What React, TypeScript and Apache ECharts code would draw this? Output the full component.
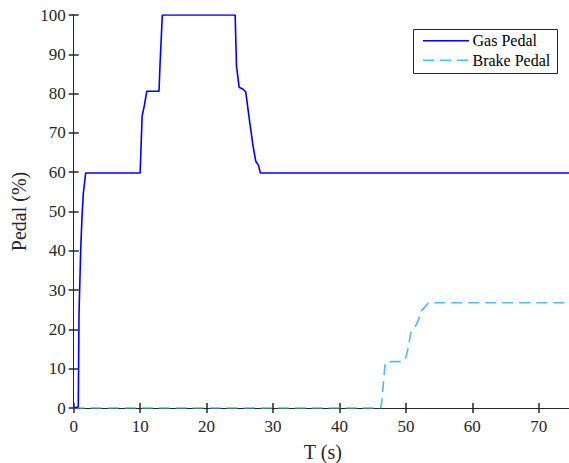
import React, { useEffect, useRef } from "react";
import * as echarts from "echarts";

const gasT = [0, 0.69, 0.8, 1.05, 1.25, 1.45, 1.8, 10.0, 10.3, 10.6, 11.0, 12.84, 12.99, 13.34, 24.3, 24.5, 24.9, 25.5, 25.9, 26.5, 27.0, 27.4, 27.8, 28.1, 75];
const gasV = [0, 0.3, 24, 40, 48.7, 54.6, 59.8, 59.8, 74.3, 76.7, 80.6, 80.6, 87.3, 100, 100, 87, 81.6, 81.1, 80.4, 72.6, 66.6, 62.8, 61.8, 59.8, 59.8];
const brakeT = [0, 46.2, 46.35, 46.85, 47.1, 49.6, 50.0, 50.4, 50.7, 51.4, 51.9, 52.2, 52.9, 53.4, 75];
const brakeV = [0, 0, 1.2, 10.9, 11.8, 11.8, 12.9, 15.6, 19.0, 20.7, 22.4, 24.5, 25.8, 26.8, 26.8];
const seriesNames = ["Gas Pedal", "Brake Pedal"];
const xTitle = "T (s)";
const yTitle = "Pedal (%)";

const FONT = "Liberation Serif";
const AX = "#262626";
const GAS = "#0000ff";
const BRAKE = "#4dbeee";
const DASH = [11, 6];

export default function App() {
  const ref = useRef<HTMLDivElement>(null);
  useEffect(() => {
    if (!ref.current) return;
    const chart = echarts.init(ref.current, undefined, { renderer: "svg" });
    const gas = gasT.map((t, i) => [t, gasV[i]]);
    const brake = brakeT.map((t, i) => [t, brakeV[i]]);
    const axisCommon = {
      axisLine: { show: true, lineStyle: { color: AX, width: 1 } },
      axisTick: { show: true, inside: true, length: 5, lineStyle: { color: AX, width: 1.5 } },
      splitLine: { show: false },
    };
    const lx = 413, ly = 29, lw = 144, lh = 44;
    const rowY = [40.7, 60.2];
    const colors = [GAS, BRAKE];
    const legendEls: any[] = [
      {
        type: "rect",
        shape: { x: lx + 0.5, y: ly + 0.5, width: lw, height: lh },
        style: { fill: "#ffffff", stroke: AX, lineWidth: 1 },
        z: 10,
      },
    ];
    seriesNames.forEach((n, i) => {
      legendEls.push({
        type: "line",
        shape: { x1: 423, y1: rowY[i], x2: 469, y2: rowY[i] },
        style: { stroke: colors[i], lineWidth: 1.6, lineDash: i === 1 ? DASH : null },
        z: 11,
      });
      legendEls.push({
        type: "text",
        x: 472.5,
        y: rowY[i],
        style: {
          text: n,
          fontFamily: FONT,
          fontSize: 16,
          fill: "#000",
          verticalAlign: "middle",
        },
        z: 11,
      });
    });
    chart.setOption({
      animation: false,
      backgroundColor: "#ffffff",
      textStyle: { fontFamily: FONT },
      grid: {
        left: 73.7,
        right: -3,
        top: 15,
        bottom: 55,
        containLabel: false,
        outerBoundsMode: "none",
      },
      xAxis: [
        {
          type: "value",
          min: 0,
          max: 75,
          interval: 10,
          ...axisCommon,
          axisLabel: { fontFamily: FONT, fontSize: 17, color: AX, margin: 10, showMaxLabel: false },
          name: xTitle,
          nameLocation: "middle",
          nameGap: 34,
          nameTextStyle: { fontFamily: FONT, fontSize: 20, color: AX },
        },
        {
          type: "value",
          position: "top",
          min: 0,
          max: 75,
          interval: 10,
          ...axisCommon,
          axisLabel: { show: false },
        },
      ],
      yAxis: [
        {
          type: "value",
          min: 0,
          max: 100,
          interval: 10,
          ...axisCommon,
          axisLabel: { fontFamily: FONT, fontSize: 17, color: AX, margin: 8 },
          name: yTitle,
          nameLocation: "middle",
          nameGap: 40,
          nameTextStyle: { fontFamily: FONT, fontSize: 20, color: AX },
        },
        {
          type: "value",
          position: "right",
          min: 0,
          max: 100,
          interval: 10,
          ...axisCommon,
          axisLabel: { show: false },
        },
      ],
      graphic: legendEls,
      series: [
        {
          name: seriesNames[0],
          type: "line",
          data: gas,
          showSymbol: false,
          symbol: "none",
          lineStyle: { color: GAS, width: 1.6 },
          itemStyle: { color: GAS },
          z: 3,
        },
        {
          name: seriesNames[1],
          type: "line",
          data: brake,
          showSymbol: false,
          symbol: "none",
          lineStyle: { color: BRAKE, width: 1.6, type: DASH },
          itemStyle: { color: BRAKE },
          z: 2,
        },
      ],
    });
    return () => chart.dispose();
  }, []);
  return (
    <div
      ref={ref}
      style={{ position: "fixed", left: 0, top: 0, width: 569, height: 463, background: "#fff" }}
    />
  );
}
